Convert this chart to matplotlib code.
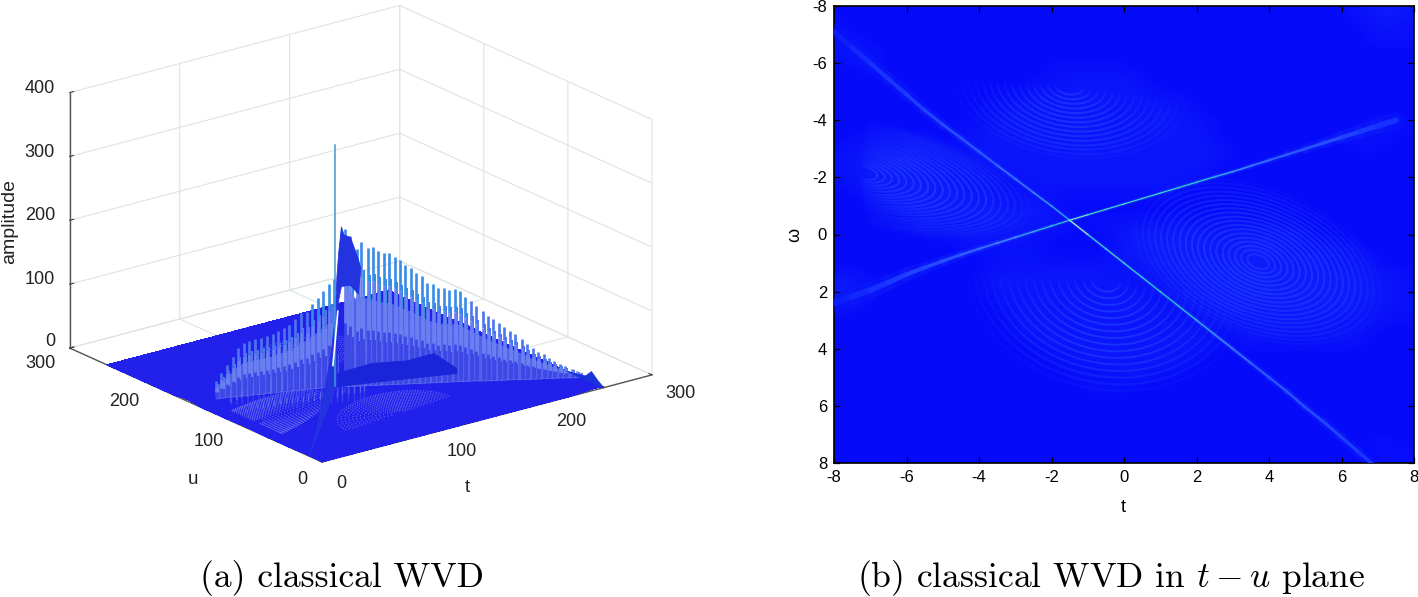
import numpy as np
import matplotlib
matplotlib.use("Agg")
import matplotlib.pyplot as plt
from matplotlib.collections import LineCollection
from matplotlib.colors import LinearSegmentedColormap
from mpl_toolkits.mplot3d import proj3d
from mpl_toolkits.mplot3d.art3d import Line3DCollection, Poly3DCollection

plt.rcParams["font.family"] = ["Liberation Sans", "DejaVu Sans"]
plt.rcParams["axes.unicode_minus"] = False
plt.rcParams["mathtext.fontset"] = "cm"

# ---- data ----------------------------------------------------------------
axis_ticks_b = [-8, -6, -4, -2, 0, 2, 4, 6, 8]
ticks_t3d = [0, 100, 200, 300]
ticks_u3d = [0, 100, 200, 300]
ticks_z3d = [0, 100, 200, 300, 400]

# coarse background level, rows omega=-8..8, columns t=-8..8 (step 0.5)
background = [
[0,0,0,0,0,0,0,0,0,0,0,0,0,0,0,0,0,0,0,0,0,0,0,0,0,0,0,0,0,1,2,3,2],
[1,0,0,0,0,0,0,0,0,0,0,0,0,0,0,0,0,0,0,0,0,0,0,0,0,0,0,0,0,0,1,2,1],
[1,1,0,0,0,0,0,0,0,0,0,0,0,0,0,0,0,0,0,0,0,0,0,0,0,0,0,0,0,0,1,1,1],
[1,2,1,0,0,0,0,0,0,0,0,0,0,0,0,0,0,0,0,0,0,0,0,0,0,0,0,0,0,0,0,0,0],
[0,1,1,0,0,0,0,0,0,0,0,0,1,1,1,1,1,0,0,0,0,0,0,0,0,0,0,0,0,0,0,0,0],
[0,0,0,0,0,0,0,0,0,0,0,1,1,2,2,2,2,1,0,0,0,0,0,0,0,0,0,0,0,0,0,0,0],
[0,0,0,0,0,0,0,0,0,1,1,2,2,2,2,2,2,2,1,1,0,0,0,0,0,0,0,0,0,0,0,0,0],
[0,0,0,0,0,0,0,0,1,1,2,2,2,2,2,2,2,2,2,2,1,0,0,0,0,0,0,0,0,0,0,0,0],
[0,0,0,0,0,0,0,1,1,2,2,2,2,2,2,2,2,2,3,2,2,1,0,0,0,0,0,0,0,0,1,1,1],
[0,1,1,1,1,1,0,1,2,2,2,2,2,2,2,2,2,2,2,2,2,1,0,0,0,0,0,0,1,1,1,1,0],
[1,2,2,2,2,2,1,1,2,2,2,2,2,2,2,2,2,2,2,2,2,2,1,0,0,0,0,0,0,0,1,0,0],
[1,2,3,3,3,2,2,2,1,2,2,2,2,2,2,2,2,2,2,2,2,1,0,0,0,0,0,0,0,0,0,0,0],
[1,2,3,3,3,3,2,2,2,1,1,2,2,2,2,2,2,2,2,2,1,1,0,0,0,0,0,0,0,0,0,0,0],
[0,1,2,3,3,3,3,2,2,2,1,1,1,1,1,1,1,1,1,1,0,0,0,0,0,0,0,0,0,0,0,0,0],
[0,0,1,2,3,3,3,3,3,2,2,3,1,0,0,0,0,0,0,0,0,0,0,0,0,0,0,0,0,0,0,0,0],
[0,0,0,0,1,2,2,2,3,3,3,2,2,1,1,1,1,1,1,1,1,1,1,0,0,0,0,0,0,0,0,0,0],
[0,0,0,0,0,1,1,2,2,2,2,1,1,0,0,1,2,3,3,3,3,2,2,2,2,2,2,0,0,0,0,0,0],
[0,0,0,0,0,0,0,1,1,1,1,1,0,0,0,0,2,3,3,3,3,3,3,3,3,2,2,2,2,2,0,0,0],
[0,0,0,0,0,0,0,0,0,1,1,1,1,1,1,1,2,2,3,3,3,3,3,3,3,3,3,3,2,2,2,0,0],
[2,1,0,0,0,0,0,0,1,2,2,2,2,2,2,2,1,2,2,3,3,3,3,3,3,3,3,3,3,3,2,2,1],
[3,2,1,0,0,0,0,0,1,2,2,2,2,2,2,2,2,1,2,2,3,3,3,3,3,3,3,3,3,3,3,2,1],
[2,1,0,0,0,0,0,0,0,1,2,2,2,2,2,2,2,2,1,2,2,2,3,3,3,3,3,3,3,3,2,2,1],
[0,0,0,0,0,0,0,0,0,0,2,2,2,2,2,2,2,2,2,1,1,2,2,2,2,2,2,2,2,2,2,1,1],
[0,0,0,0,0,0,0,0,0,0,1,2,2,2,2,2,2,2,2,2,2,1,1,2,2,2,2,2,2,2,1,0,0],
[0,0,0,0,0,0,0,0,0,0,0,1,2,2,2,2,2,2,2,2,2,1,0,1,1,1,1,1,1,1,0,0,0],
[0,0,0,0,0,0,0,0,0,0,0,0,1,1,2,2,2,2,2,2,1,0,0,0,0,0,0,0,0,0,0,0,0],
[0,0,0,0,0,0,0,0,0,0,0,0,0,1,1,1,2,2,1,1,0,0,0,0,0,0,0,0,0,0,0,0,0],
[0,0,0,0,0,0,0,0,0,0,0,0,0,0,1,1,1,0,0,0,0,0,0,0,0,0,0,0,0,0,0,0,0],
[0,0,0,0,0,0,0,0,0,0,0,0,0,0,0,0,0,0,0,0,0,0,0,0,0,0,0,0,0,0,0,0,0],
[0,0,0,0,0,0,0,0,0,0,0,0,0,0,0,0,0,0,0,0,0,0,0,0,0,0,0,0,0,0,0,0,0],
[0,0,0,0,0,0,0,0,0,0,0,0,0,0,0,0,0,0,0,0,0,0,0,0,0,0,0,0,0,0,0,0,0],
[0,0,0,0,0,0,0,0,0,0,0,0,0,0,0,0,0,0,0,0,0,0,0,0,0,0,0,0,0,0,1,1,0],
[0,0,0,0,0,0,0,0,0,0,0,0,0,0,0,0,0,0,0,0,0,0,0,0,0,0,0,0,0,0,0,1,1],
]

# ridges of panel (b)
ridge1_t = [-8,-7.5,-7,-6.5,-6,-5.5,-5,-4.5,-4,-3.5,-3,-2.5,-2,-1.5,-1,-0.5,0,0.5,1,1.5,2,2.5,3,3.5,4,4.5,5,5.5,6,6.5,7,7.5]
ridge1_w = [-7.1,-6.55,-6,-5.45,-4.9,-4.35,-3.85,-3.38,-2.9,-2.42,-1.95,-1.47,-1,-0.5,0,0.5,1,1.5,2,2.5,3,3.5,4,4.5,5,5.5,6.05,6.55,7.1,7.65,8.2,8.7]
ridge1_amp = [.1,.14,.18,.2,.24,.27,.3,.33,.36,.42,.48,.58,.66,1,.8,.8,.78,.76,.74,.68,.6,.5,.42,.36,.33,.31,.29,.27,.24,.2,.16,.12]
ridge1_lw = [7,7,6,6,5,4.5,4,3.5,3,2.6,2.2,1.8,1.5,1.5,1.5,1.5,1.5,1.5,1.5,1.8,2,2.4,2.8,3,3.4,3.8,4,4.4,4.8,5,5.5,6]

ridge2_t = [-8,-7.5,-7,-6.5,-6,-5.5,-5,-4.5,-4,-3.5,-3,-2.5,-2,-1.5,-1,-0.5,0,0.5,1,1.5,2,2.5,3,3.5,4,4.5,5,5.5,6,6.5,7,7.5]
ridge2_w = [2.4,2.17,1.95,1.68,1.4,1.16,.93,.71,.5,.3,.1,-.1,-.3,-.5,-.69,-.88,-1.07,-1.26,-1.45,-1.64,-1.83,-2.02,-2.2,-2.4,-2.6,-2.8,-3,-3.2,-3.4,-3.6,-3.8,-4]
ridge2_amp = [.1,.14,.18,.22,.26,.29,.32,.36,.42,.5,.58,.66,.72,.9,.8,.8,.8,.8,.78,.74,.68,.6,.52,.44,.38,.34,.32,.3,.26,.22,.18,.14]
ridge2_lw = [9,9,8,7,6,5,4.5,3.8,3,2.5,2,1.8,1.5,1.5,1.5,1.5,1.5,1.5,1.5,1.6,1.8,2,2.2,2.6,3,3.6,4.2,5,6,7,8,9]

# interference fringe families: centre, shear, angle span, radii
lobe_left = dict(ct=-7.3, cw=-2.2, shear=.28, span=(-90, 90),
                 rx=[.5,.7,.9,1.1,1.3,1.5,1.7,1.9,2.1,2.3,2.5,2.7,2.9,3.1,3.3,3.5,3.7,3.9,4.1,4.3,4.5,4.7],
                 ry=[.25,.33,.42,.5,.6,.7,.78,.87,.95,1.05,1.13,1.22,1.3,1.4,1.48,1.56,1.64,1.7,1.75,1.8,1.85,1.9])
lobe_right = dict(ct=3.7, cw=.95, shear=.32, span=(0, 360),
                  rx=[.3,.47,.64,.81,.98,1.15,1.32,1.49,1.66,1.83,2.0,2.17,2.34,2.51,2.68,2.85,3.02,3.19,3.36],
                  ry=[.24,.38,.51,.65,.78,.92,1.06,1.19,1.33,1.46,1.6,1.74,1.87,2.0,2.14,2.28,2.42,2.55,2.68])
lobe_top = dict(ct=-1.5, cw=-5.2, shear=.12, span=(0, 180),
                rx=[.4,.6,.8,1.0,1.2,1.4,1.6,1.8,2.0,2.2,2.4,2.6,2.8,3.0,3.2],
                ry=[.3,.46,.62,.78,.94,1.1,1.26,1.42,1.58,1.74,1.9,2.06,2.2,2.36,2.5])
lobe_bottom = dict(ct=-.5, cw=1.6, shear=.12, span=(0, 180),
                   rx=[.4,.63,.86,1.09,1.32,1.55,1.78,2.01,2.24,2.47,2.7,2.93,3.16,3.39,3.62,3.85],
                   ry=[.4,.63,.86,1.09,1.32,1.55,1.78,2.01,2.24,2.47,2.7,2.93,3.16,3.39,3.62,3.85])
lobes = [lobe_left, lobe_right, lobe_top, lobe_bottom]

# panel (a) right comb
comb_r_t = [110,113,117,120,124,127,130,134,137,141,144,147,151,154,158,161,165,168,172,175,179,182,185,189,192,196,199,202,206,209,213,216,220,223,227,230,234,237,240,244,247,251,254,256]
comb_r_u = [116,114,112,110,108,106,104,102,100,98,96,94,92,90,88,86,84,82,80,78,76,74,72,70,68,65,63,61,59,57,55,53,50,48,46,44,42,40,38,36,34,31,29,28]
comb_r_amp = [246,235,214,225,215,216,210,206,205,199,193,186,181,173,167,156,153,147,147,144,144,141,131,125,117,109,101,96,89,82,76,71,63,55,48,42,37,31,26,21,18,13,10,7]
# panel (a) left comb
comb_l_t = [20,24,28,32,36,40,44,48,52,56,60,64,68,72,76,80,84,88,92,96,100,103]
comb_l_u = [152,151,150,148,147,145,144,142,140,139,137,136,134,133,131,130,128,127,125,124,122,121]
comb_l_amp = [27,39,50,62,75,82,84,86,88,89,91,95,99,103,111,119,120,132,141,150,161,168]
# panel (a) sheets along the two ridges
sheet1_t = [0,30,60,85,100,108,115,125,135,160,190,200]
sheet1_u = [16,46,76,101,116,124,131,141,151,176,206,216]
sheet1_amp = [0,10,40,70,110,170,200,228,205,175,110,85]
sheet1_base = [0,0,0,0,0,0,125,135,125,100,55,85]
sheet2_t = [104,130,155,174,190]
sheet2_u = [120,111,102,95,89]
sheet2_amp = [20,30,28,35,8]
peak_t, peak_u, peak_amp = 104, 120, 378
tail_u = [0,8,15,22,32,45]
tail_amp = [0,8,17,6,3,0]
sliver_t = [94,104,113]
sliver_u = [110,120,129]
sliver_amp = [43,75,108]

# panel (a) tick labels, as they read in the picture
labels_z = ["0", "100", "200", "300", "400"]
labels_z_y = [342, 279, 216, 152, 89]
labels_u = ["0", "100", "200", "300"]
labels_u_xy = [(302, 480), (209, 441), (124, 402), (40, 363)]
labels_t = ["0", "100", "200", "300"]
labels_t_xy = [(341, 483), (462, 452), (571, 422), (680, 393)]
# ---------------------------------------------------------------------------

W, H = 1418, 597
fig = plt.figure(figsize=(W/100, H/100), dpi=100, facecolor="white")

def fringe_lines(lobe):
    out = []
    th = np.radians(np.linspace(lobe["span"][0], lobe["span"][1], 60))
    for rx, ry in zip(lobe["rx"], lobe["ry"]):
        dt = rx*np.cos(th)
        out.append((lobe["ct"]+dt, lobe["cw"]+ry*np.sin(th)+lobe["shear"]*dt))
    return out

to_idx = lambda v: (np.asarray(v, float)+8)*16

# ---- panel (a) ------------------------------------------------------------
S = 720
ax = fig.add_axes([0, 0, S/W, S/H], projection="3d", computed_zorder=False)
ax.patch.set_alpha(0)
ax.set_proj_type("ortho")
ax.view_init(elev=20.2, azim=-127.4)

grid_t = np.linspace(0, 256, 33)
T, U = np.meshgrid(grid_t, grid_t)
ax.plot_surface(T, U, np.array(background, float)*.8, color=(.13, .13, .92),
                shade=False, linewidth=0, antialiased=False, zorder=1)

fr = []
for lobe in lobes:
    for tv, wv in fringe_lines(lobe):
        ti, ui = to_idx(tv), to_idx(wv)
        m = (ti >= 0) & (ti <= 256) & (ui >= 0) & (ui <= 256)
        if m.sum() > 2:
            fr.append(np.column_stack([ti[m], ui[m], np.full(m.sum(), 2.0)]))
ax.add_collection3d(Line3DCollection(fr, colors=[(.55, .58, .95, .6)], linewidths=.8,
                                     linestyles=(0, (1, 1.4)), zorder=2))

def stems(ts, us, amps, lw, z, frac=1.0, alpha=1.0):
    low, mid, top, tip = [], [], [], []
    for t, u, a0 in zip(ts, us, amps):
        a = a0*frac
        low.append([(t, u, 0), (t, u, .4*a)])
        mid.append([(t, u, .4*a), (t, u, .75*a)])
        (tip if a > 130 else top).append([(t, u, .75*a), (t, u, a)])
    for seg, col in ((low, (.24, .28, .9)), (mid, (.42, .5, .94)),
                     (top, (.3, .46, .94)), (tip, (.22, .55, .9))):
        if seg:
            ax.add_collection3d(Line3DCollection(seg, colors=[col], linewidths=lw, alpha=alpha, zorder=z))

def sheet(ts, us, amps, col, z, bases=None, alpha=1.0):
    bases = [0]*len(ts) if bases is None else bases
    v = [(t, u, b) for t, u, b in zip(ts, us, bases)] + [(t, u, a) for t, u, a in zip(ts[::-1], us[::-1], amps[::-1])]
    ax.add_collection3d(Poly3DCollection([v], facecolors=[col], edgecolors=[col], linewidths=.6, alpha=alpha, zorder=z))

# lower body of the combs, rows in front of the crest rows
for du, f, lw in ((-36, .2, 1.0), (-18, .42, 1.2)):
    stems(comb_l_t, [u+du for u in comb_l_u], comb_l_amp, lw, 2.4, f, alpha=.7)
sheet(comb_l_t, comb_l_u, [a*.62 for a in comb_l_amp], (.38, .44, .93), 2.5, alpha=.8)
sheet(comb_r_t, comb_r_u, [a*.62 for a in comb_r_amp], (.38, .44, .93), 2.5, alpha=.8)
stems([t+2 for t in comb_l_t], comb_l_u, comb_l_amp, 1.5, 2.6, .8)
stems([t+2 for t in comb_r_t], comb_r_u, comb_r_amp, 1.5, 2.6, .8)
stems(comb_l_t, comb_l_u, comb_l_amp, 1.9, 3)
stems(comb_r_t, comb_r_u, comb_r_amp, 1.9, 3)

sheet(sheet2_t, sheet2_u, sheet2_amp, (.1, .14, .85), 4)
sheet(sheet1_t, sheet1_u, sheet1_amp, (.14, .2, .88), 5, bases=sheet1_base)
sheet([256]*len(tail_u), tail_u, tail_amp, (.1, .2, .85), 5)
ax.plot([peak_t]*2, [peak_u]*2, [0, peak_amp], color=(.25, .6, .85), lw=1.1, zorder=6)
ax.plot(sliver_t, sliver_u, sliver_amp, color="white", lw=1.2, zorder=7)

ax.set_xlim(0, 300, view_margin=0)
ax.set_ylim(0, 300, view_margin=0)
ax.set_zlim(0, 400, view_margin=0)
ax.set_xticks(ticks_t3d)
ax.set_yticks(ticks_u3d)
ax.set_zticks(ticks_z3d)
ax.set_xticklabels([])
ax.set_yticklabels([])
ax.set_zticklabels([])
ax.tick_params(colors="#444444")
for a in (ax.xaxis, ax.yaxis, ax.zaxis):
    a.set_pane_color((1, 1, 1, 0))
    a.pane.set_edgecolor("#d5dcdc")
    a.line.set_color("#555555")
    a.line.set_linewidth(1.0)
    a._axinfo["grid"]["color"] = "#dde4e4"
    a._axinfo["grid"]["linewidth"] = .8
    a._axinfo["tick"]["inward_factor"] = 0
    a._axinfo["tick"]["outward_factor"] = .15

# fit the projected box onto the reference's pixel corners
def corner_px(x, y, z):
    ax.apply_aspect()
    px, py, _ = proj3d.proj_transform(x, y, z, ax.get_proj())
    return ax.transData.transform((px, py))
ax.set_box_aspect((415, 415, 272), zoom=1)
a0, a1 = corner_px(0, 0, 0), corner_px(300, 0, 0)
scale = np.hypot(330, 87)/np.hypot(*(a1-a0))
ax.set_box_aspect((415, 415, 272), zoom=scale)
a0 = corner_px(0, 0, 0)
dx, dy = 322-a0[0], (H-462)-a0[1]
ax.set_position([dx/W, dy/H, S/W, S/H])

tk = dict(fontsize=13, color="#222222", va="center")
for s, y in zip(labels_z, labels_z_y):
    fig.text(55/W, 1-y/H, s, ha="right", **tk)
for s, (x, y) in zip(labels_u, labels_u_xy):
    fig.text(x/W, 1-y/H, s, ha="center", **tk)
for s, (x, y) in zip(labels_t, labels_t_xy):
    fig.text(x/W, 1-y/H, s, ha="center", **tk)
fig.text(10/W, 1-221/H, "amplitude", rotation=90, fontsize=14, ha="center", va="center", color="#222222")
fig.text(193/W, 1-480/H, "u", fontsize=13.5, ha="center", va="center", color="#222222")
fig.text(467/W, 1-487/H, "t", fontsize=13.5, ha="center", va="center", color="#222222")

# ---- panel (b) ------------------------------------------------------------
cmap = LinearSegmentedColormap.from_list("wvd", [
    (0, (.02, .04, .98)), (.25, (.12, .25, 1)), (.5, (.25, .5, 1)),
    (.75, (.15, .88, .78)), (1, (.75, 1, .7))])
b = fig.add_axes([834/W, 1-463/H, 580/W, 457/H])
b.imshow(np.array(background, float)/9*.26, extent=(-8, 8, 8, -8), aspect="auto",
         cmap=cmap, vmin=0, vmax=1, interpolation="bicubic", zorder=1)
seg, alp = [], []
for lobe in lobes:
    lines = fringe_lines(lobe)
    for i, (tv, wv) in enumerate(lines):
        p = np.column_stack([tv, wv])
        seg += list(np.stack([p[:-1], p[1:]], axis=1))
        fade = 1-((i+1)/(len(lines)+1))**4
        if lobe["span"][1]-lobe["span"][0] < 360:
            alp += list(.45*fade*np.sin(np.linspace(0, np.pi, len(p)-1))**.6)
        else:
            alp += list(np.full(len(p)-1, .38*fade))
cols = np.tile([.18, .34, 1, 0], (len(seg), 1))
cols[:, 3] = alp
b.add_collection(LineCollection(seg, colors=cols, linewidths=1.5, zorder=2))
for rt, rw, ra, rl in ((ridge1_t, ridge1_w, ridge1_amp, ridge1_lw),
                       (ridge2_t, ridge2_w, ridge2_amp, ridge2_lw)):
    pts = np.column_stack([rt, rw])
    seg = np.stack([pts[:-1], pts[1:]], axis=1)
    amp = np.array(ra[:-1])
    lw = np.array(rl[:-1])
    b.add_collection(LineCollection(seg, colors=cmap(amp*.55), linewidths=lw*1.5, alpha=.3,
                                    capstyle="round", zorder=3))
    b.add_collection(LineCollection(seg, colors=cmap(amp), linewidths=lw*.5,
                                    capstyle="round", zorder=4))
b.set_xlim(-8, 8)
b.set_ylim(8, -8)
b.set_xticks(axis_ticks_b)
b.set_yticks(axis_ticks_b)
b.tick_params(direction="in", length=4, width=.9, top=True, right=True, labelsize=12, pad=5)
for s in b.spines.values():
    s.set_linewidth(1.2)
fig.text(1123/W, 1-508/H, "t", fontsize=13, ha="center", va="center")
fig.text(795/W, 1-235/H, "ω", fontsize=13, rotation=90, ha="center", va="center")

# ---- captions -------------------------------------------------------------
fig.text(342/W, 1-587/H, "(a) classical WVD", family="cmr10", fontsize=25.6, ha="center", va="baseline")
fig.text(1111/W, 1-587/H, r"(b) classical WVD in $t-u$ plane", family="cmr10", fontsize=25.6, ha="center", va="baseline")

fig.savefig("out.png", dpi=100)
